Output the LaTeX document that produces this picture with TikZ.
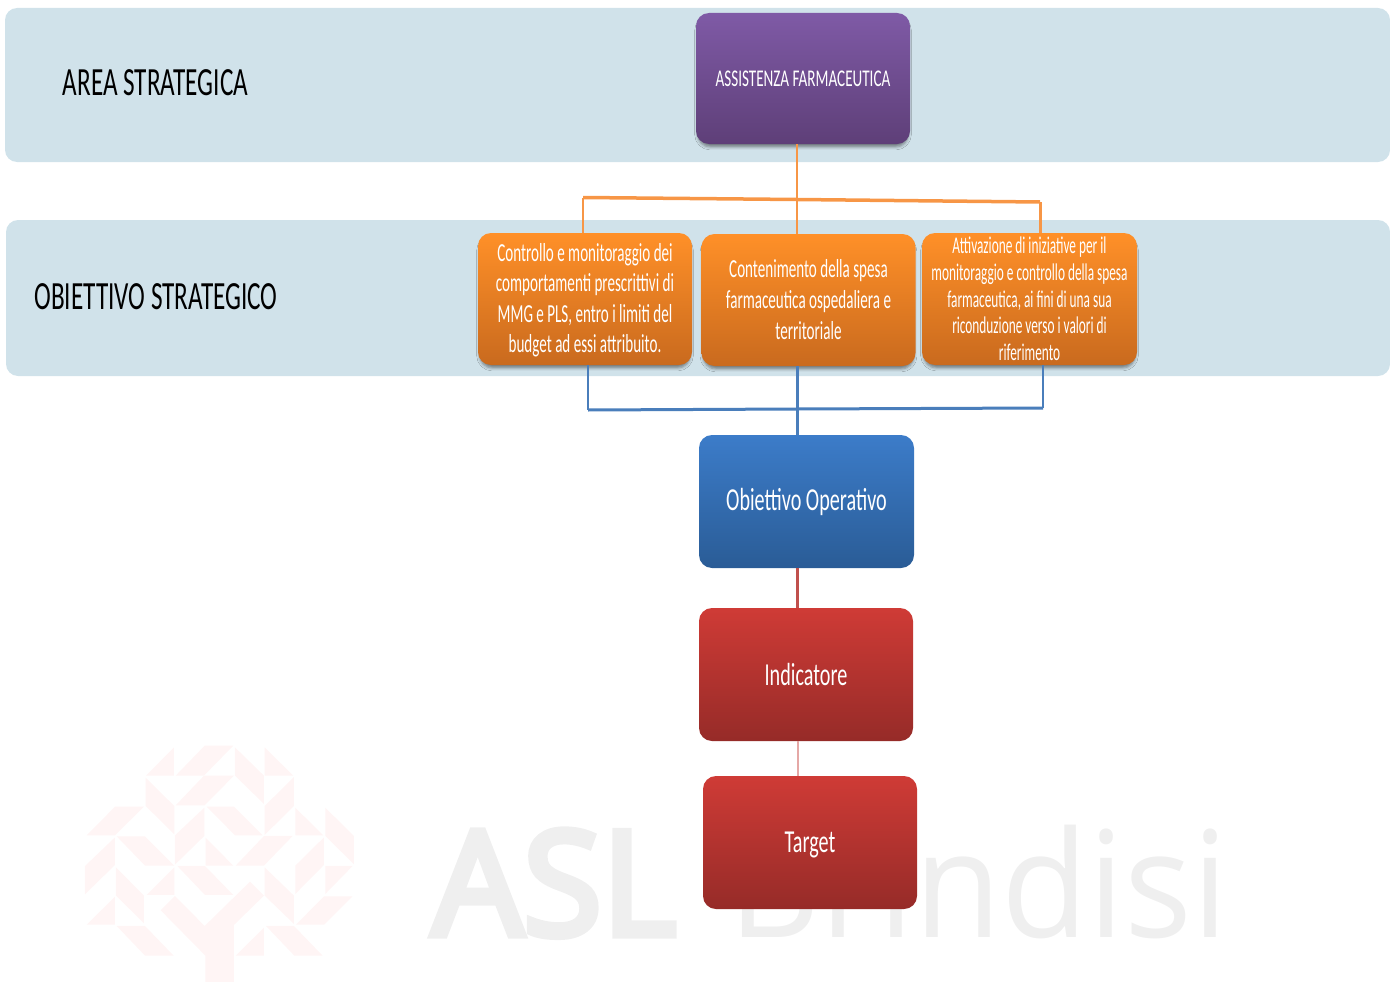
\documentclass[tikz,border=0pt]{standalone}
\usepackage{fontspec}
\setmainfont{Carlito}
\newfontfamily\bigfont[FakeStretch=0.63]{Carlito}
\newfontfamily\narrowfont[FakeStretch=0.58]{Carlito}
\newfontfamily\tightfont[FakeStretch=0.555]{Carlito}
\newfontfamily\wmfont[FakeStretch=0.96]{Open Sans}
\newfontfamily\wmheavy[FakeStretch=0.99,FakeBold=5]{Open Sans}
\usetikzlibrary{shadows,shadows.blur}
\definecolor{bandc}{HTML}{D0E2EA}
\definecolor{treec}{HTML}{FFF5F5}
\definecolor{wmc}{HTML}{EFEFEF}
\definecolor{oline}{HTML}{F79646}
\definecolor{bline}{HTML}{4A7EBB}
\definecolor{rline}{HTML}{C0504D}
\definecolor{pline}{HTML}{E5A8A6}
\definecolor{pcol1}{HTML}{7F5AA6}
\definecolor{pcol2}{HTML}{5E3F78}
\definecolor{ocol1}{HTML}{FF9028}
\definecolor{ocol2}{HTML}{C96A1E}
\definecolor{bcol1}{HTML}{3C7CC9}
\definecolor{bcol2}{HTML}{2A5C96}
\definecolor{rcol1}{HTML}{CF3B36}
\definecolor{rcol2}{HTML}{962B28}
\tikzset{
  band/.style={fill=bandc,draw=none,rounded corners=12pt},
  softshadow/.style={blur shadow={shadow xshift=0pt,shadow yshift=-4pt,shadow blur radius=3pt,shadow opacity=45,shadow scale=0.985}},
  boxbase/.style={rounded corners=13pt,inner sep=0pt,text=white,align=center,minimum width=#1},
  purplebox/.style={boxbase=214pt,minimum height=131pt,top color=pcol1,bottom color=pcol2,softshadow},
  orangebox/.style={boxbase=214pt,minimum height=132pt,top color=ocol1,bottom color=ocol2,softshadow},
  bluebox/.style={boxbase=215pt,minimum height=133pt,top color=bcol1,bottom color=bcol2},
  redbox/.style={boxbase=214pt,minimum height=133pt,top color=rcol1,bottom color=rcol2},
  conn/.style={line width=#1,line join=miter},
  tree/.style={fill=treec,draw=none},
  wmark/.style={text=wmc,inner sep=0pt,anchor=base west},
  sidelabel/.style={text=black,inner sep=0pt},
}
\begin{document}
\begin{tikzpicture}[x=1pt,y=-1pt]
\useasboundingbox (0,0) rectangle (1390,982);
% watermark tree
\begin{scope}[shift={(60,730)},x=0.3333pt,y=-0.3333pt]
\foreach \p in {
 {(342,52)--(342,137)--(258,137)},
 {(434,47)--(520,47)--(432,137)--(347,137)},
 {(525,52)--(612,137)--(612,222)--(525,137)},
 {(614,52)--(700,137)--(614,137)},
 {(432,137)--(522,137)--(434,226)--(347,226)},
 {(257,143)--(343,228)--(343,313)--(257,228)},
 {(702,141)--(702,228)--(614,315)--(614,228)},
 {(165,230)--(252,230)--(165,316)--(80,316)},
 {(433,233)--(433,318)--(345,404)--(345,316)},
 {(440,230)--(522,230)--(608,316)--(525,316)},
 {(706,233)--(790,316)--(706,316)},
 {(796,233)--(882,318)--(882,403)--(796,318)},
 {(170,319)--(255,319)--(343,407)--(255,407)},
 {(165,322)--(165,405)--(75,493)--(75,408)},
 {(437,323)--(520,407)--(437,407)},
 {(612,318)--(698,318)--(612,407)--(527,407)},
 {(792,322)--(792,405)--(706,492)--(706,407)},
 {(352,408)--(435,408)--(520,495)--(435,495)},
 {(343,412)--(343,495)--(260,495)},
 {(168,412)--(252,497)--(252,580)--(168,497)},
 {(614,412)--(702,497)--(702,582)--(614,497)},
 {(796,408)--(878,408)--(796,492)},
 {(792,499)--(878,499)--(793,584)--(708,584)},
 {(165,500)--(165,584)--(80,584)},
 {(170,588)--(255,588)--(341,677)--(255,677)},
 {(612,593)--(612,677)--(527,677)},
 {(618,588)--(702,588)--(788,677)--(703,677)},
 {(345,498)--(434,588)--(570,455)--(612,497)--(522,585)--(522,756)--(436,756)--(436,677)--(302,541)}
}{ \expandafter\fill\expandafter[\expandafter t\expandafter r\expandafter e\expandafter e\expandafter]\p--cycle; }
\end{scope}
% watermark text
\node[wmark,font=\wmheavy\fontsize{145}{145}\selectfont] (wma) at (432,935) {ASL};
\node[wmark,font=\wmfont\fontsize{148}{148}\selectfont] (wmb) at (728,937) {Brindisi};
% bands
\fill[band] (5,8) rectangle (1390,162);
\fill[band] (6,220) rectangle (1390,376);
\node[sidelabel,font=\bigfont\fontsize{40}{44}\selectfont] (l1) at (155.5,83) {AREA STRATEGICA};
\node[sidelabel,font=\bigfont\fontsize{40}{44}\selectfont] (l2) at (156,297) {OBIETTIVO STRATEGICO};
% connector junctions
\coordinate (tj) at (797,199.5);
\coordinate (tl) at (583,197.5);
\coordinate (tr) at (1040,202);
\coordinate (bj) at (797,409);
\coordinate (bl) at (588,410);
\coordinate (br) at (1043,408);
% nodes
\node[purplebox,font=\bigfont\fontsize{24}{28}\selectfont] (area) at (803,78.5) {ASSISTENZA FARMACEUTICA};
\draw[conn=2pt,oline] (area.south -| tj) -- (tj);
\draw[conn=3.5pt,oline] (tl) -- (tj) -- (tr);
\coordinate (ol) at (583,233);
\coordinate (om) at (797,234);
\coordinate (or) at (1040,233);
\draw[conn=2pt,oline] (tj) -- (om);
\draw[conn=2pt,oline] (tl) -- (ol);
\draw[conn=3pt,oline] (tr) -- (or);
\node[orangebox,font=\narrowfont\fontsize{26}{30.5}\selectfont] (o1) at (585,299) {\raisebox{-1pt}[\height][\depth]{\parbox{214pt}{\centering Controllo e monitoraggio dei\\comportamenti prescrittivi di\\MMG e PLS, entro i limiti del\\budget ad essi attribuito.}}};
\node[orangebox,font=\narrowfont\fontsize{26}{31}\selectfont] (o2) at (808.5,300) {Contenimento della spesa\\farmaceutica ospedaliera e\\territoriale};
\node[orangebox,minimum width=215pt,font=\tightfont\fontsize{24}{26.7}\selectfont] (o3) at (1029.5,299) {Attivazione di iniziative per il\\monitoraggio e controllo della spesa\\farmaceutica, ai fini di una sua\\riconduzione verso i valori di\\riferimento};
\node[bluebox,font=\bigfont\fontsize{32}{36}\selectfont] (op) at (806.5,501.5) {Obiettivo Operativo};
\node[redbox,font=\bigfont\fontsize{32}{36}\selectfont] (ind) at (806,674.5) {Indicatore};
\node[redbox,font=\bigfont\fontsize{32}{36}\selectfont] (tg) at (810,842.5) {\raisebox{-2pt}[\height][\depth]{Target}};
% lower connectors
\draw[conn=2pt,bline] (o1.south -| bl) -- (bl);
\draw[conn=2pt,bline] (o3.south -| br) -- (br);
\draw[conn=3pt,bline] (bl) -- (bj) -- (br);
\draw[conn=3pt,bline] (o2.south -| bj) -- (bj) -- (op.north -| bj);
\coordinate (rj) at (797.5,500);
\draw[conn=2.5pt,rline] (op.south -| rj) -- (ind.north -| rj);
\coordinate (pj) at (798,800);
\draw[conn=1.5pt,pline] (ind.south -| pj) -- (tg.north -| pj);
\end{tikzpicture}
\end{document}
